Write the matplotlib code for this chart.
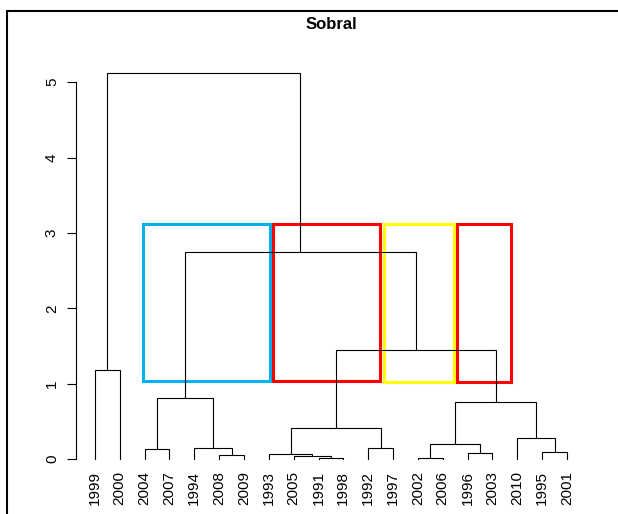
import matplotlib
matplotlib.use("Agg")
import matplotlib.pyplot as plt
from matplotlib.patches import Rectangle

plt.rcParams['font.family'] = ['Liberation Sans', 'DejaVu Sans']

# leaves in dendrogram order
leaves = ['1999', '2000', '2004', '2007', '1994', '2008', '2009', '1993', '2005',
          '1991', '1998', '1992', '1997', '2002', '2006', '1996', '2003', '2010',
          '1995', '2001']

# hclust-style merge table: negative = leaf (1-based), positive = earlier merge step
merge_a = [-10, -14, -9, -6, -8, -16, -19, -3, -12, -5, 2, -18, 5, 11, 8, -1, 13, 15, 16]
merge_b = [-11, -15, 1, -7, 3, -17, -20, -4, -13, 4, 6, 7, 9, 12, 10, -2, 14, 17, 18]
merge_height = [0.01, 0.008, 0.035, 0.055, 0.065, 0.075, 0.097, 0.133, 0.143, 0.15,
                0.195, 0.283, 0.407, 0.756, 0.805, 1.18, 1.446, 2.745, 5.12]

# cluster boxes drawn over the tree
box_left = [2.94, 8.18, 12.63, 15.56]
box_right = [8.05, 12.47, 15.45, 17.73]
box_bottom = [1.04, 1.04, 1.02, 1.02]
box_top = [3.125, 3.125, 3.125, 3.125]
box_color = ['#00B2EE', '#FF0000', '#FFFF00', '#FF0000']

fig = plt.figure(figsize=(6.18, 5.14), dpi=100)
ax = fig.add_axes([0.123, 0.0768, 0.825, 0.811])

pos = {}
hgt = {}

def node(ref):
    if ref < 0:
        return float(-ref), 0.0
    return pos[ref], hgt[ref]

for i, (a, b, h) in enumerate(zip(merge_a, merge_b, merge_height), start=1):
    xa, ya = node(a)
    xb, yb = node(b)
    ax.plot([xa, xa, xb, xb], [ya, h, h, yb], color='black', lw=0.8,
            solid_joinstyle='miter')
    pos[i] = (xa + xb) / 2
    hgt[i] = h

for l, r, b, t, c in zip(box_left, box_right, box_bottom, box_top, box_color):
    ax.add_patch(Rectangle((l, b), r - l, t - b, fill=False, edgecolor=c, lw=2.2))

for i, lab in enumerate(leaves, start=1):
    ax.text(i, -0.16, lab, rotation=90, ha='center', va='top', fontsize=11)

ax.set_xlim(0.24, 20.76)
ax.set_ylim(-0.205, 5.325)
ax.set_xticks([])
ax.set_yticks(range(6))
ax.tick_params(axis='y', labelrotation=90, length=6.3, width=0.8, pad=6, labelsize=11)
for lab in ax.get_yticklabels():
    lab.set_va('center')
for s in ['top', 'right', 'bottom']:
    ax.spines[s].set_visible(False)
ax.spines['left'].set_bounds(0, 5)
ax.spines['left'].set_linewidth(0.8)

fig.text(0.536, 1 - 24 / 514, 'Sobral', ha='center', va='center',
         fontsize=12, fontweight='bold')

# outer frame
fig.patches.append(Rectangle((7 / 618, -0.05), 1.1, 1 - 10.5 / 514 + 0.05,
                             transform=fig.transFigure, fill=False,
                             edgecolor='black', lw=1.5))

fig.savefig('out.png', dpi=100)
